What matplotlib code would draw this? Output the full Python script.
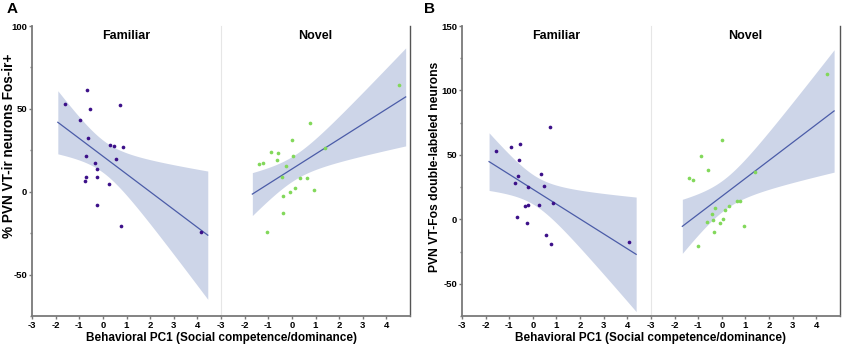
import numpy as np
import matplotlib.pyplot as plt

plt.rcParams['font.family'] = ['Liberation Sans', 'DejaVu Sans']
plt.rcParams['axes.unicode_minus'] = False

# PC1 scores and responses
fam_x_a = [-1.62, -0.67, -0.55, -0.97, -0.61, 0.71, 0.31, 0.48, 0.87, 0.55,
           -0.70, -0.34, -0.26, -0.70, -0.77, -0.23, 0.27, -0.26, 0.77, 4.15]
fam_y_a = [53.0, 61.6, 50.0, 43.4, 32.7, 52.6, 28.1, 27.7, 26.9, 19.9,
           21.3, 17.5, 13.5, 8.8, 6.2, 8.8, 4.8, -8.2, -20.5, -24.3]

nov_x_a = [-1.38, -1.22, -0.88, -0.60, -0.64, 0.00, 0.75, 0.06, -0.27, -0.43,
           0.33, 0.65, 0.13, -0.06, 0.94, -0.36, -0.38, -1.04, 1.41, 4.52]
nov_y_a = [16.7, 17.1, 24.1, 23.3, 19.3, 31.3, 41.2, 21.5, 15.5, 8.6,
           8.2, 8.0, 2.2, -0.2, 1.0, -2.8, -12.9, -24.5, 26.1, 64.3]

fam_x_b = [-1.57, -0.94, -0.55, -0.59, 0.71, -0.64, -0.74, -0.22, 0.34, 0.48,
           -0.32, -0.22, 0.28, 0.85, -0.67, -0.24, 0.56, 0.77, 4.09]
fam_y_b = [53.3, 56.1, 58.1, 46.3, 71.4, 33.3, 28.4, 25.1, 35.3, 26.1,
           10.2, 11.3, 11.0, 12.3, 2.0, -2.8, -12.0, -19.2, -17.9]

nov_x_b = [4.46, 0.00, -0.89, -0.59, -1.38, -1.21, 1.39, 0.65, 0.76, 0.32,
           0.13, -0.27, -0.41, -0.63, -0.38, 0.06, -0.06, 0.92, -0.35, -1.03]
nov_y_b = [112.6, 61.4, 49.2, 38.1, 32.3, 30.2, 37.1, 14.1, 14.1, 10.2,
           7.2, 9.0, 4.1, -1.8, -0.8, 0.0, -2.8, -4.9, -9.7, -21.0]

T95 = {17: 2.110, 18: 2.101}

PURPLE = '#3c1089'
GREEN = '#82d85a'
LINE = '#4b5ca8'
BAND = '#cdd5e8'
SPINE = '#7a7a7a'


def fit_band(x, y):
    x = np.asarray(x)
    y = np.asarray(y)
    n = len(x)
    b, a = np.polyfit(x, y, 1)
    resid = y - (a + b * x)
    s = np.sqrt(np.sum(resid ** 2) / (n - 2))
    pad = 0.05 * (x.max() - x.min())
    xs = np.linspace(x.min() - pad, x.max() + pad, 100)
    yh = a + b * xs
    se = s * np.sqrt(1 / n + (xs - x.mean()) ** 2 / np.sum((x - x.mean()) ** 2))
    t = T95[n - 2]
    return xs, yh, yh - t * se, yh + t * se


def panel(ax, x, y, color, title, first):
    xs, yh, lo, hi = fit_band(x, y)
    ax.fill_between(xs, lo, hi, color=BAND, lw=0, zorder=1)
    ax.plot(xs, yh, color=LINE, lw=0.9, zorder=2)
    ax.scatter(x, y, s=7, color=color, lw=0, zorder=3)
    ax.set_xlim(-3, 5)
    ax.set_xticks(range(-3, 5))
    ax.text(0.5, 0.985, title, transform=ax.transAxes, ha='center', va='top',
            fontsize=9, fontweight='bold')
    ax.spines['top'].set_visible(False)
    ax.spines['bottom'].set_color(SPINE)
    ax.spines['bottom'].set_linewidth(1.3)
    ax.tick_params(axis='both', direction='out', length=2.5, width=1,
                   color=SPINE, labelsize=6.8, pad=1)
    ax.tick_params(which='minor', direction='out', length=1.5, width=1, color=SPINE)
    for lab in ax.get_xticklabels() + ax.get_yticklabels():
        lab.set_fontweight('bold')
    if first:
        ax.spines['right'].set_visible(False)
        ax.spines['left'].set_color(SPINE)
        ax.spines['left'].set_linewidth(1.3)
    else:
        ax.spines['left'].set_color('#e6e6e6')
        ax.spines['right'].set_color('#555555')
        ax.spines['right'].set_linewidth(1.0)
        ax.tick_params(axis='y', which='both', left=False, labelleft=False)


fig = plt.figure(figsize=(8.43, 3.45), dpi=100)

w = 0.2242
bottom = 0.084
height = 0.8406
axA1 = fig.add_axes([0.038, bottom, w, height])
axA2 = fig.add_axes([0.038 + w, bottom, w, height], sharey=axA1)
axB1 = fig.add_axes([0.548, bottom, w, height])
axB2 = fig.add_axes([0.548 + w, bottom, w, height], sharey=axB1)

axA1.set_ylim(-75, 100)
axA1.set_yticks([-50, 0, 50, 100])
axA1.set_yticks(np.arange(-75, 101, 25), minor=True)
axB1.set_ylim(-75, 150)
axB1.set_yticks([-50, 0, 50, 100, 150])
axB1.set_yticks(np.arange(-75, 151, 25), minor=True)

panel(axA1, fam_x_a, fam_y_a, PURPLE, 'Familiar', True)
panel(axA2, nov_x_a, nov_y_a, GREEN, 'Novel', False)
panel(axB1, fam_x_b, fam_y_b, PURPLE, 'Familiar', True)
panel(axB2, nov_x_b, nov_y_b, GREEN, 'Novel', False)

fig.text(9 / 843, 1 - 146 / 345, '% PVN VT-ir neurons Fos-ir+', rotation=90,
         ha='center', va='center', fontsize=9.8, fontweight='bold')
fig.text(435 / 843, 1 - 167 / 345, 'PVN VT-Fos double-labeled neurons', rotation=90,
         ha='center', va='center', fontsize=8.7, fontweight='bold')

xlab = 'Behavioral PC1 (Social competence/dominance)'
fig.text(0.038 + w, 0.004, xlab, ha='center', va='bottom', fontsize=8.5, fontweight='bold')
fig.text(0.548 + w, 0.004, xlab, ha='center', va='bottom', fontsize=8.5, fontweight='bold')

fig.text(0.008, 0.995, 'A', ha='left', va='top', fontsize=11, fontweight='bold')
fig.text(0.503, 0.995, 'B', ha='left', va='top', fontsize=11, fontweight='bold')

fig.savefig('out.png', dpi=100)
